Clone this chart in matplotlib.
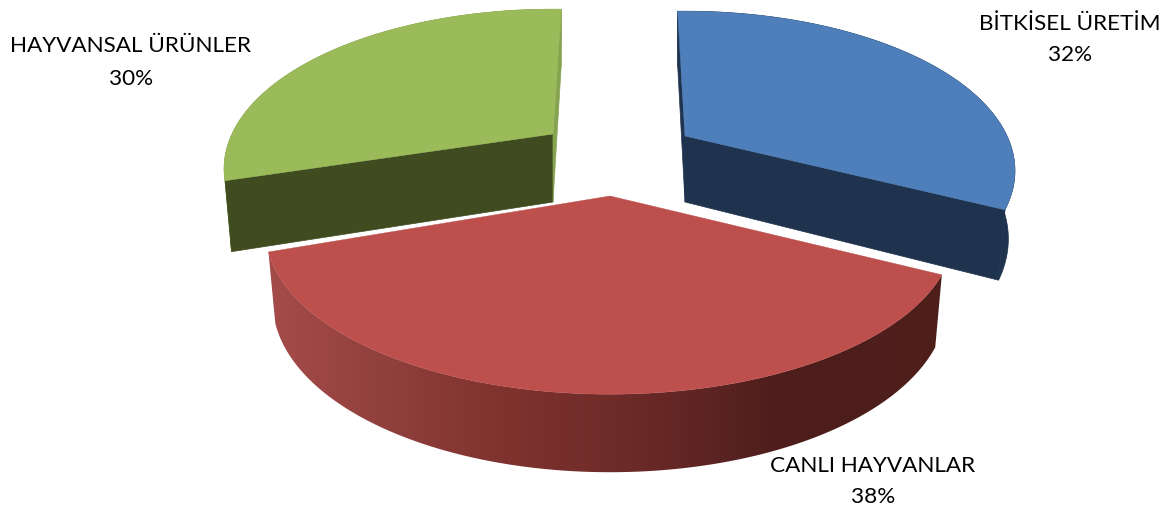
import numpy as np
import matplotlib
matplotlib.use('Agg')
import matplotlib.pyplot as plt
from matplotlib.colors import LinearSegmentedColormap
from matplotlib.patches import Polygon

# DATOS
nombres = ['BİTKİSEL ÜRETİM', 'CANLI HAYVANLAR', 'HAYVANSAL ÜRÜNLER']
valores = [32.4, 37.5, 30.1]
angulo_inicio = -1.0

# ESTILO Y POSICION
color_cara = ['#4f7fba', '#bd4f4c', '#9bba5a']
color_corte_ini = ['#1f334f', '#4f1f1c', '#404b20']
color_corte_fin = ['#1f334f', '#a24a47', '#86a34f']
color_pared = ['#1f334f', None, '#86a34f']
apices = [(685, 137), (610, 197), (553, 135)]
radios = [322.0, 336.0, 321.0]
altos = [152.0, 155.0, 152.0]
alto_lado = [66, 68, 68]
desfase_ini = [-0.6, 1.6, 2.6]
desfase_fin = [0.4, -0.2, 2.8]
pos_texto = [(1070, 24, 55), (873, 466, 497), (131, 46, 79)]
orden = [2, 0, 1]

K = 0.218

x_grad = [274, 400, 500, 610, 700, 790, 945]
c_grad = ['#a54c49', '#8f3f3c', '#80332f', '#702c29', '#5f2523', '#4c1d1b', '#4f1f1c']
mapa_rojo = LinearSegmentedColormap.from_list(
    'pared', [((x - x_grad[0]) / (x_grad[-1] - x_grad[0]), c) for x, c in zip(x_grad, c_grad)])


def proyectar(i, ang, radio=1.0, abajo=False):
    t = np.radians(ang)
    X = radio * np.sin(t)
    Y = radio * np.cos(t)
    s = 1 / (1 + K * Y)
    px = radios[i] * X * s
    py = -altos[i] * Y * s
    if abajo:
        px = px * 0.98
        py = py + alto_lado[i] - 10 * Y
    return apices[i][0] + px, apices[i][1] + py


fig = plt.figure(figsize=(11.71, 5.10), dpi=100)
ax = fig.add_axes([0, 0, 1, 1])

limites = angulo_inicio + np.cumsum([0] + valores) / np.sum(valores) * 360

for i in orden:
    a0, a1 = limites[i] + desfase_ini[i], limites[i + 1] + desfase_fin[i]
    angs = np.linspace(a0, a1, 180)
    z = 1 + i

    xa, ya = apices[i]
    xc, yc = xa, proyectar(i, 0, 0, True)[1]

    # pared exterior
    xs, ys = proyectar(i, angs)
    xb, yb = proyectar(i, angs, abajo=True)
    pared = np.c_[np.r_[xs, xb[::-1]], np.r_[ys, yb[::-1]]]
    if i == 1:
        gradiente = np.linspace(0, 1, 256).reshape(1, -1)
        im = ax.imshow(gradiente, cmap=mapa_rojo, aspect='auto', zorder=z,
                       extent=(x_grad[0] - 8, x_grad[-1], 510, 200))
        im.set_clip_path(Polygon(pared, transform=ax.transData))
    else:
        ax.fill(pared[:, 0], pared[:, 1], color=color_pared[i], lw=0.5, zorder=z)

    # caras de corte (en rojo no se ven)
    if i != 1:
        p = proyectar(i, a0)
        pb = proyectar(i, a0, abajo=True)
        ax.fill([xa, p[0], pb[0], xc], [ya, p[1], pb[1], yc], color=color_corte_ini[i], lw=0.5, zorder=z)

        p = proyectar(i, a1)
        pb = proyectar(i, a1, abajo=True)
        ax.fill([xa, p[0], pb[0], xc], [ya, p[1], pb[1], yc], color=color_corte_fin[i], lw=0.5, zorder=z)

    # cara superior
    ax.fill(np.r_[xa, xs], np.r_[ya, ys], color=color_cara[i], lw=0.3, zorder=z)

    tx, y1, y2 = pos_texto[i]
    ax.text(tx, y1, nombres[i], ha='center', va='center', family='Lato',
            fontsize=16.2, color='black', zorder=10)
    ax.text(tx, y2, f'{round(valores[i])}%', ha='center', va='center', family='Lato',
            fontsize=16.2, color='black', zorder=10)

ax.set_xlim(0, 1171)
ax.set_ylim(510, 0)
ax.axis('off')

fig.savefig('out.png', dpi=100)
